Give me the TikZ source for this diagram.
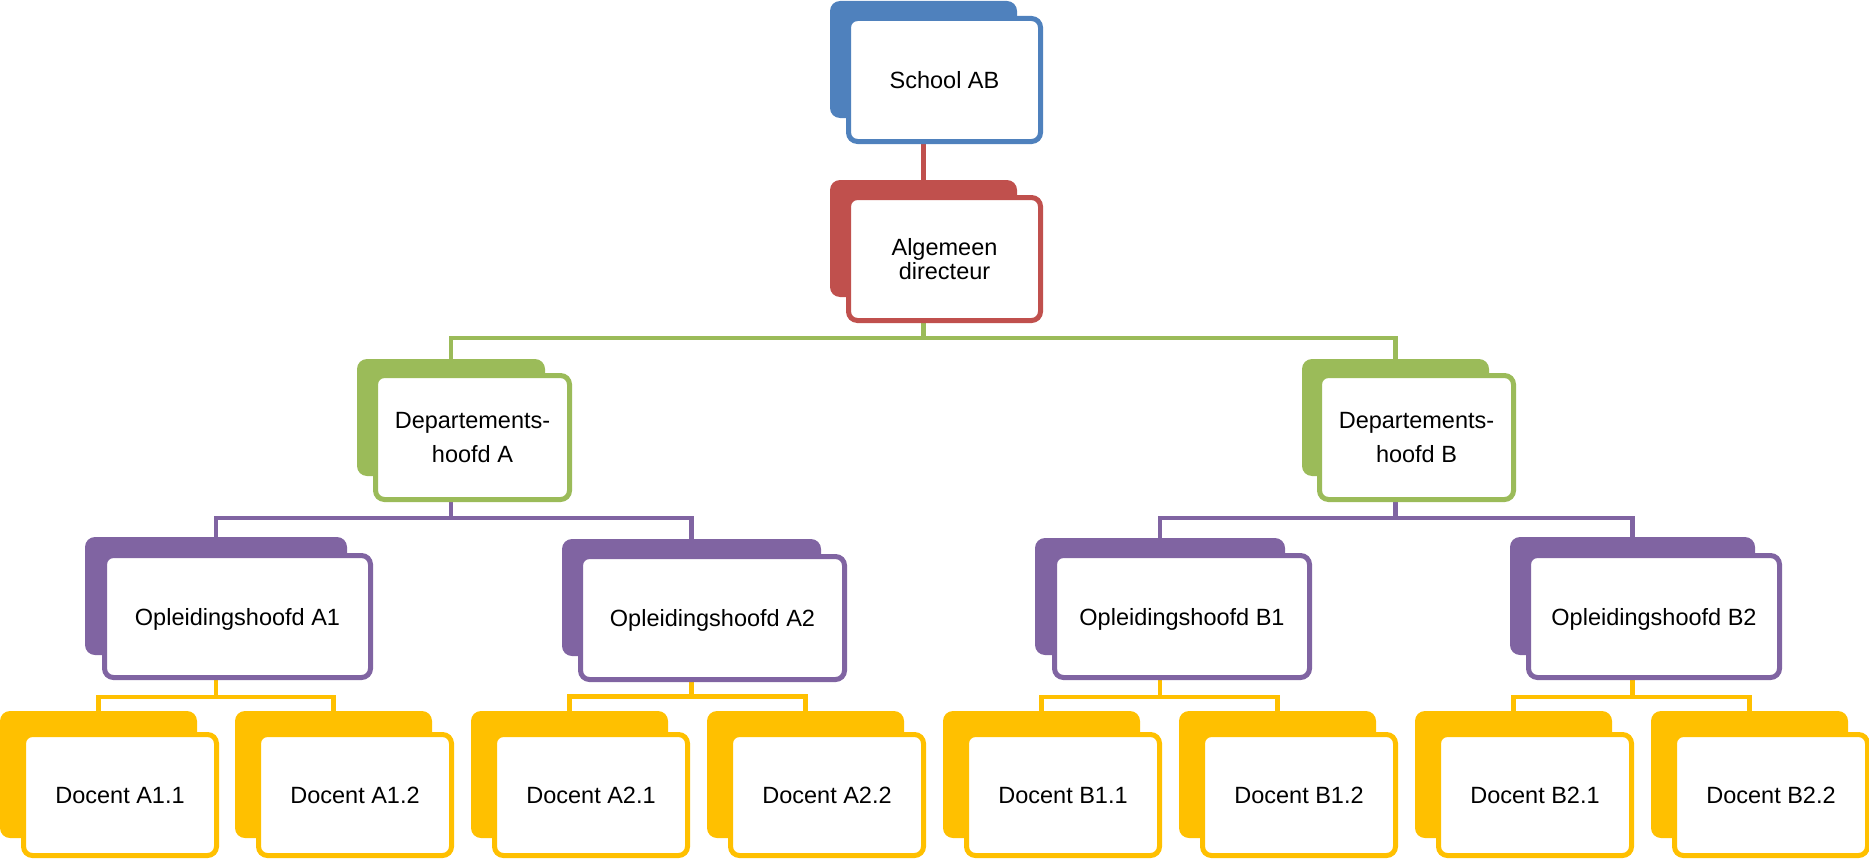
\documentclass[tikz,border=0pt]{standalone}
\usepackage{fontspec}
\setmainfont{Liberation Sans}
\usetikzlibrary{backgrounds}

\definecolor{cBlue}{HTML}{4F81BD}
\definecolor{cRed}{HTML}{C0504D}
\definecolor{cGreen}{HTML}{9BBB59}
\definecolor{cPurple}{HTML}{8064A2}
\definecolor{cGold}{HTML}{FFC000}

\begin{document}
\begin{tikzpicture}[x=1pt,y=-1pt,
  backcard/.style={fill=#1, rounded corners=10pt, inner sep=0pt, outer sep=0pt},
  frontcard/.style={draw=#1, fill=white, line width=5pt, rounded corners=9pt,
    inner sep=0pt, outer sep=0pt, font=\fontsize{23.5}{24}\selectfont},
  oneline/.style={text depth=0pt},
  twoline/.style={align=center},
  link/.style={draw=#1, line width=4.5pt}]
\useasboundingbox (0,0) rectangle (1869,859);

% top level
\node[backcard=cBlue, minimum width=187pt, minimum height=117pt] (sb) at (923.5,59.5) {};
\node[frontcard=cBlue, oneline, minimum width=192pt, minimum height=123pt] (sf) at (944.5,80) {School AB};

\node[backcard=cRed, minimum width=187pt, minimum height=117pt] (ab) at (923.5,238.5) {};
\node[frontcard=cRed, twoline, minimum width=192pt, minimum height=123pt] (af) at (944.5,259)
  {Algemeen\\directeur};

% departments
\node[backcard=cGreen, minimum width=188pt, minimum height=117pt] (dab) at (451,417.5) {};
\node[frontcard=cGreen, twoline, minimum width=194pt, minimum height=124pt] (daf) at (472.5,437.5)
  {Departements-\\[10pt]hoofd A};
\node[backcard=cGreen, minimum width=187pt, minimum height=117pt] (dbb) at (1395.5,417.5) {};
\node[frontcard=cGreen, twoline, minimum width=194pt, minimum height=124pt] (dbf) at (1416.5,437.5)
  {Departements-\\[10pt]hoofd B};

% programme heads
\node[backcard=cPurple, minimum width=262pt, minimum height=118pt] (oa1b) at (216,596) {};
\node[frontcard=cPurple, oneline, minimum width=266pt, minimum height=122pt] (oa1f) at (237.5,616.5)
  {Opleidingshoofd A1};
\node[backcard=cPurple, minimum width=259pt, minimum height=117pt] (oa2b) at (691.5,597.5) {};
\node[frontcard=cPurple, oneline, minimum width=264pt, minimum height=123pt] (oa2f) at (712.5,618)
  {Opleidingshoofd A2};
\node[backcard=cPurple, minimum width=250pt, minimum height=117pt] (ob1b) at (1160,596.5) {};
\node[frontcard=cPurple, oneline, minimum width=255pt, minimum height=122pt] (ob1f) at (1182,616.5)
  {Opleidingshoofd B1};
\node[backcard=cPurple, minimum width=245pt, minimum height=118pt] (ob2b) at (1632.5,596) {};
\node[frontcard=cPurple, oneline, minimum width=251pt, minimum height=122pt] (ob2f) at (1654,616.5)
  {Opleidingshoofd B2};

% teachers
\foreach \nm/\lbl/\L in {da11/A1.1/0, da12/A1.2/235, da21/A2.1/471, da22/A2.2/707,
                         db11/B1.1/943, db12/B1.2/1179, db21/B2.1/1415, db22/B2.2/1651}{
  \node[backcard=cGold, minimum width=197pt, minimum height=127pt] (\nm b) at ({\L+98.5},774.5) {};
  \node[frontcard=cGold, oneline, minimum width=193pt, minimum height=121pt] (\nm f) at ({\L+120},795)
    {Docent \lbl};
}

% connectors
\begin{scope}[on background layer]
  \draw[link=cRed] (sb.center |- sf.south) -- (ab.north);

  \draw[link=cGreen] (ab.center |- af.south) -- ++(0,17.5) -| (dab.north);
  \draw[link=cGreen] (ab.center |- af.south) -- ++(0,17.5) -| (dbb.north);

  \draw[link=cPurple] (dab.center |- daf.south) -- ++(0,18.5) -| (oa1b.north);
  \draw[link=cPurple] (dab.center |- daf.south) -- ++(0,18.5) -| (oa2b.north);
  \draw[link=cPurple] (dbb.center |- dbf.south) -- ++(0,18.5) -| (ob1b.north);
  \draw[link=cPurple] (dbb.center |- dbf.south) -- ++(0,18.5) -| (ob2b.north);

  \draw[link=cGold] (oa1b.center |- oa1f.south) -- ++(0,19.5) -| (da11b.north);
  \draw[link=cGold] (oa1b.center |- oa1f.south) -- ++(0,19.5) -| (da12b.north);
  \draw[link=cGold] (oa2b.center |- oa2f.south) -- ++(0,17) -| (da21b.north);
  \draw[link=cGold] (oa2b.center |- oa2f.south) -- ++(0,17) -| (da22b.north);
  \draw[link=cGold] (ob1b.center |- ob1f.south) -- ++(0,19.5) -| (db11b.north);
  \draw[link=cGold] (ob1b.center |- ob1f.south) -- ++(0,19.5) -| (db12b.north);
  \draw[link=cGold] (ob2b.center |- ob2f.south) -- ++(0,19.5) -| (db21b.north);
  \draw[link=cGold] (ob2b.center |- ob2f.south) -- ++(0,19.5) -| (db22b.north);
\end{scope}
\end{tikzpicture}
\end{document}
